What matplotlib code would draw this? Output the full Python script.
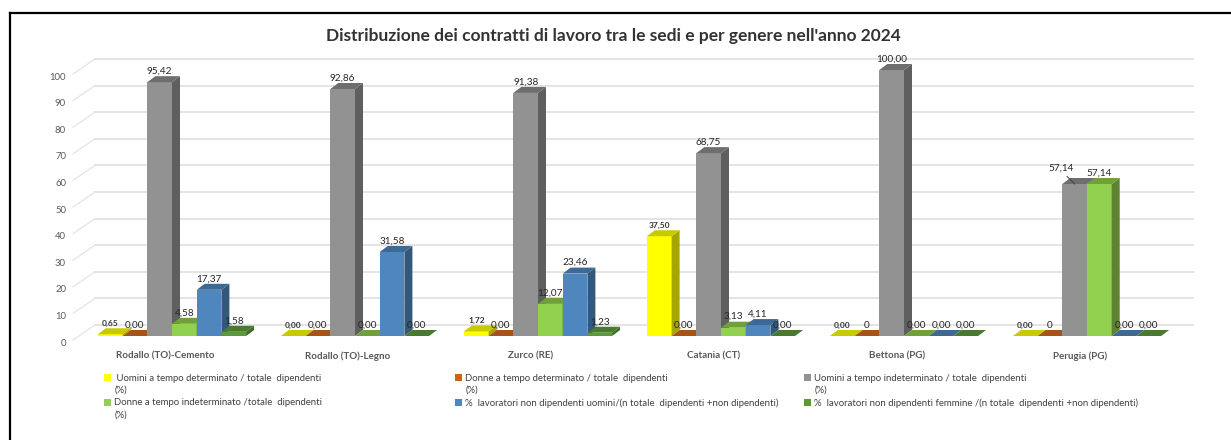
#!python

import matplotlib
matplotlib.use('Agg')
import matplotlib.pyplot as plt
import matplotlib.transforms as mtrans
from matplotlib.lines import Line2D
from matplotlib.patches import Patch, Polygon

plt.rcParams['font.family'] = ['Lato', 'DejaVu Sans']

TITLE = "Distribuzione dei contratti di lavoro tra le sedi e per genere nell'anno 2024"
sedi = ['Rodallo (TO)-Cemento', 'Rodallo (TO)-Legno', 'Zurco (RE)', 'Catania (CT)', 'Bettona (PG)', 'Perugia (PG)']

uomini_det = [0.65, 0.00, 1.72, 37.50, 0.00, 0.00]
donne_det = [0.00, 0.00, 0.00, 0.00, 0, 0]
uomini_ind = [95.42, 92.86, 91.38, 68.75, 100.00, 57.14]
donne_ind = [4.58, 0.00, 12.07, 3.13, 0.00, 57.14]
non_dip_uomini = [17.37, 31.58, 23.46, 4.11, 0.00, 0.00]
non_dip_donne = [1.58, 0.00, 1.23, 0.00, 0.00, 0.00]

# the orange series is shown as 0 in the last two groups
donne_det_labels = ['0,00', '0,00', '0,00', '0,00', '0', '0']

legend_labels = [
    ' Uomini a tempo determinato / totale  dipendenti\n(%)',
    'Donne a tempo determinato / totale  dipendenti\n(%)',
    'Uomini a tempo indeterminato / totale  dipendenti\n(%)',
    'Donne a tempo indeterminato /totale  dipendenti\n(%)',
    '%  lavoratori non dipendenti uomini/(n totale  dipendenti +non dipendenti)',
    '%  lavoratori non dipendenti femmine /(n totale  dipendenti +non dipendenti)',
]

# front, side, top
colors = [
    ('#FFFF00', '#A6A600', '#C9C900'),
    ('#C8641E', '#8A4413', '#A5551C'),
    ('#929292', '#5F5F5F', '#6E6E6E'),
    ('#92D050', '#5F8232', '#6FA03C'),
    ('#4F86BE', '#33587A', '#3D6A95'),
    ('#5B9A3A', '#3F6B2A', '#4A7A2E'),
]

W, H = 1231, 440
PX_CAT = 183.0
PX_VAL = 2.66
BAR_W = 24.7 / PX_CAT
BAR_DX = 8 / PX_CAT
BAR_DY = 6 / PX_VAL
WALL_DX = 22 / PX_CAT
WALL_DY = 11 / PX_VAL
LABEL_DY = 11 / PX_VAL

fig = plt.figure(figsize=(W / 100, H / 100), dpi=100, facecolor='white')

# axes covers the front plane of the chart, 3d depth is drawn outside it
left, right, top, bottom = 73, 1171, 70, 336
ax = fig.add_axes([left / W, 1 - bottom / H, (right - left) / W, (bottom - top) / H])
ax.patch.set_visible(False)
ax.set_xlim((left - 172) / PX_CAT, (right - 172) / PX_CAT)
ax.set_ylim(0, 100)
for s in ax.spines.values():
    s.set_visible(False)

ax.set_yticks(range(0, 101, 10))
ax.set_xticks(range(len(sedi)))
ax.set_xticklabels(sedi, fontsize=7.1, fontweight='bold', color='#595959')
ax.tick_params(axis='both', length=0)
ax.tick_params(axis='y', labelsize=6.8, labelcolor='#595959', pad=5)
ax.tick_params(axis='x', pad=10.8)
shift = mtrans.ScaledTranslation(0, -6 / 100, fig.dpi_scale_trans)
for lab in ax.get_yticklabels():
    lab.set_transform(lab.get_transform() + shift)
shift = mtrans.ScaledTranslation(-7 / 100, 0, fig.dpi_scale_trans)
for lab in ax.get_xticklabels():
    lab.set_transform(lab.get_transform() + shift)

# back wall grid and the slanted lines on the side wall
xmin, xmax = ax.get_xlim()
for v in range(0, 101, 10):
    ax.plot([xmin + WALL_DX, xmax + WALL_DX], [v + WALL_DY, v + WALL_DY], color='#E4E4E4', lw=1.4, clip_on=False, zorder=1)
    ax.plot([xmin, xmin + WALL_DX], [v - 4 / PX_VAL, v + WALL_DY], color='#E4E4E4', lw=0.9, clip_on=False, zorder=1)

series = [uomini_det, donne_det, uomini_ind, donne_ind, non_dip_uomini, non_dip_donne]
for s_idx, values in enumerate(series):
    front, side, cap = colors[s_idx]
    for c_idx, val in enumerate(values):
        x0 = c_idx + (s_idx - 3) * BAR_W
        x1 = x0 + BAR_W
        z = 3 + s_idx
        ax.bar(x0, val, width=BAR_W, align='edge', color=front, clip_on=False, zorder=z)
        ax.add_patch(Polygon([(x1, 0), (x1 + BAR_DX, BAR_DY), (x1 + BAR_DX, val + BAR_DY), (x1, val)],
                             facecolor=side, edgecolor='none', clip_on=False, zorder=z))
        ax.add_patch(Polygon([(x0, val), (x1, val), (x1 + BAR_DX, val + BAR_DY), (x0 + BAR_DX, val + BAR_DY)],
                             facecolor=cap, edgecolor='none', clip_on=False, zorder=z))

        txt = '%.2f' % val
        txt = txt.replace('.', ',')
        if s_idx == 1:
            txt = donne_det_labels[c_idx]
        xc = (x0 + x1) / 2
        yc = val + LABEL_DY
        if s_idx == 0:
            ax.text(xc, yc, txt, ha='center', va='center', fontsize=6, fontweight='bold', color='#333333', zorder=20, clip_on=False)
        elif s_idx == 2 and c_idx == 5:
            # pulled away from the neighbour with a leader line in the original
            ax.annotate(txt, xy=(xc, val), xytext=(-14, 16), textcoords='offset pixels',
                        ha='center', va='center', fontsize=7.2, color='#262626', zorder=20,
                        arrowprops=dict(arrowstyle='-', color='#404040', lw=0.7, shrinkA=1, shrinkB=0, relpos=(0.6, 0)))
        else:
            ax.text(xc, yc, txt, ha='center', va='center', fontsize=7.2, color='#262626', zorder=20, clip_on=False)

fig.text(613 / W, 1 - 35.5 / H, TITLE, ha='center', va='center', fontsize=12.5, fontweight='bold', color='#333333')

# one legend per column, the columns are not evenly spaced
handles = [Patch(facecolor=c[0], edgecolor='none') for c in colors]
col_x = [104, 455, 804]
for i, x in enumerate(col_x):
    h_list = []
    l_list = []
    for j in (i, i + 3):
        # wrapped lines get an empty handle so the square stays on the first line
        parts = legend_labels[j].split('\n')
        h_list.append(handles[j])
        l_list.append(parts[0])
        for p in parts[1:]:
            h_list.append(Patch(facecolor='none', edgecolor='none'))
            l_list.append(p)
    leg = fig.legend(h_list, l_list, loc='upper left', bbox_to_anchor=(x / W, 1 - 373.5 / H), ncols=1,
                     frameon=False, fontsize=6.95, labelcolor='#404040', handlelength=0.75, handleheight=0.75,
                     handletextpad=0.3, labelspacing=0.36, borderpad=0, borderaxespad=0)

# black frame, only top and left are in the picture
fig.add_artist(Line2D([9.5 / W, 1], [1 - 13.5 / H, 1 - 13.5 / H], color='black', lw=1.6))
fig.add_artist(Line2D([9.5 / W, 9.5 / W], [0, 1 - 13.5 / H], color='black', lw=1.6))

fig.savefig('out.png', dpi=100, facecolor='white')
